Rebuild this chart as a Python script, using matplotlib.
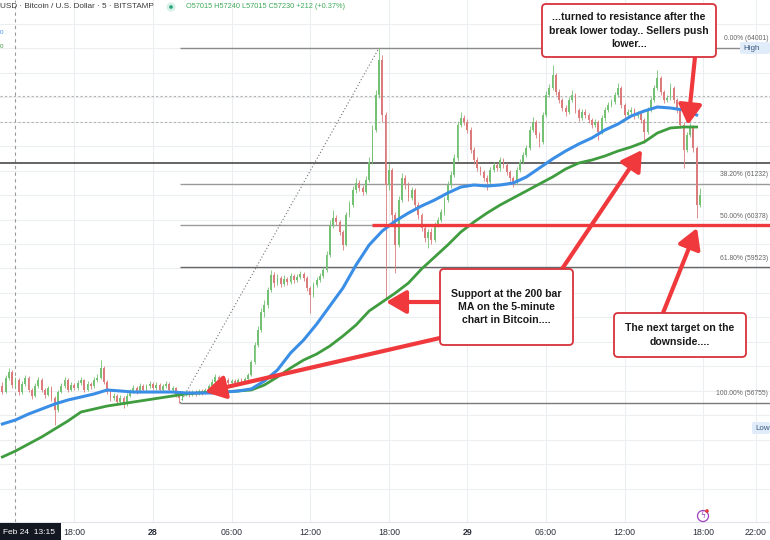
import numpy as np
import matplotlib
matplotlib.use("Agg")
import matplotlib.pyplot as plt
from matplotlib.patches import FancyBboxPatch, Circle

plt.rcParams['font.family'] = ['Liberation Sans', 'DejaVu Sans']

# 15 minute candles, time in hours counted from 28 Feb 00:00
bar_start = -11.5
bar_step = 0.25
open0 = 57100

closes = [
    56980, 57265, 57390, 57120, 57225, 56980, 57145, 57265, 57020, 56900,
    57100, 57225, 57020, 56920, 57060, 56855, 56610, 56980, 57100, 57225,
    57020, 57120, 57060, 57165, 57225, 57020, 57145, 57100, 57225, 57265,
    57470, 57185, 56980, 56855, 56900, 56775, 56855, 56735, 56900, 56980,
    57060, 56980, 57100, 57020, 57100, 57145, 57060, 57120, 57020, 57100,
    57145, 57020, 57060, 56920, 56855, 56940, 56980, 56920, 56980, 56940,
    57000, 56960, 57020, 57100, 57185, 57285, 57245, 57185, 57225, 57165,
    57205, 57165, 57225, 57185, 57245, 57325, 57590, 57940, 58245, 58610,
    58755, 59060, 59365, 59205, 59305, 59185, 59285, 59225, 59345, 59265,
    59325, 59390, 59305, 59100, 58960, 59165, 59265, 59345, 59470, 59775,
    60390, 60530, 60450, 60245, 59980, 60590, 60795, 61100, 61245, 61145,
    61060, 61305, 61675, 62325, 63040, 63755, 62635, 61205, 61510, 60590,
    59980, 60900, 61345, 61205, 60940, 61100, 60795, 60590, 60325, 60125,
    60245, 60080, 60390, 60490, 60655, 60900, 61205, 61410, 61755, 62430,
    62570, 62490, 62325, 61920, 61715, 61550, 61470, 61345, 61265, 61510,
    61610, 61550, 61715, 61610, 61470, 61345, 61265, 61510, 61675, 61815,
    61960, 62325, 62490, 62225, 62080, 62635, 63040, 63185, 63450, 63100,
    62940, 62775, 62695, 62940, 63040, 62735, 62570, 62695, 62635, 62530,
    62430, 62490, 62285, 62570, 62735, 62835, 62900, 63040, 63185, 62835,
    62635, 62695, 62735, 62610, 62655, 62530, 62285, 62735, 62940, 63185,
    63390, 63100, 62940, 62980, 63185, 62940, 62735, 62430, 61920, 62225,
    62370, 61960, 60795, 61000,
]
highs = [
    57180, 57330, 57470, 57420, 57290, 57260, 57200, 57330, 57300, 57060,
    57160, 57290, 57260, 57060, 57110, 57100, 56890, 57030, 57170, 57280,
    57260, 57180, 57160, 57220, 57290, 57250, 57200, 57190, 57280, 57340,
    57640, 57510, 57220, 57020, 56960, 56940, 56910, 56890, 56950, 57040,
    57120, 57100, 57160, 57140, 57150, 57210, 57190, 57180, 57160, 57150,
    57200, 57190, 57110, 57090, 56950, 56990, 57030, 57010, 57030, 57010,
    57050, 57040, 57070, 57150, 57240, 57340, 57320, 57280, 57270, 57260,
    57250, 57240, 57270, 57260, 57290, 57370, 57640, 58000, 58330, 58700,
    58850, 59130, 59470, 59420, 59380, 59350, 59360, 59330, 59400, 59390,
    59380, 59450, 59430, 59340, 59150, 59220, 59320, 59400, 59530, 59850,
    60500, 60700, 60600, 60500, 60290, 60650, 60870, 61180, 61350, 61310,
    61200, 61380, 61780, 62420, 63150, 64001, 63850, 62700, 61650, 61560,
    60650, 60980, 61450, 61400, 61260, 61170, 61150, 60850, 60640, 60380,
    60300, 60320, 60440, 60560, 60720, 60960, 61280, 61480, 61830, 62520,
    62690, 62640, 62550, 62380, 61980, 61780, 61600, 61520, 61400, 61570,
    61680, 61660, 61770, 61760, 61660, 61520, 61390, 61570, 61730, 61870,
    62020, 62400, 62590, 62540, 62280, 62700, 63120, 63260, 63650, 63500,
    63160, 62990, 62830, 63000, 63140, 63080, 62780, 62750, 62750, 62680,
    62580, 62550, 62530, 62630, 62790, 62900, 62960, 63100, 63290, 63220,
    62880, 62750, 62800, 62780, 62710, 62700, 62580, 62790, 63000, 63250,
    63550, 63430, 63150, 63040, 63290, 63230, 62990, 62780, 62480, 62290,
    62470, 62420, 62010, 61150,
]
lows = [
    56930, 56950, 57220, 57060, 57070, 56920, 56940, 57110, 56970, 56840,
    56870, 57060, 56980, 56860, 56890, 56800, 56300, 56580, 56950, 57070,
    56980, 56990, 57010, 57030, 57130, 56970, 56990, 57050, 57070, 57190,
    57240, 57140, 56930, 56800, 56810, 56720, 56740, 56650, 56700, 56870,
    56950, 56940, 56950, 56980, 56990, 57060, 57020, 57020, 56980, 56990,
    57060, 56980, 56980, 56880, 56755, 56820, 56900, 56880, 56890, 56900,
    56910, 56920, 56930, 56990, 57070, 57150, 57200, 57140, 57150, 57120,
    57130, 57120, 57140, 57140, 57160, 57220, 57300, 57560, 57900, 58200,
    58500, 58700, 59020, 59120, 59160, 59130, 59140, 59170, 59190, 59210,
    59220, 59290, 59250, 59040, 58590, 58920, 59120, 59220, 59300, 59430,
    59740, 60330, 60380, 60180, 59880, 59950, 60550, 60750, 61050, 61080,
    61000, 61020, 61260, 61640, 62280, 62980, 62500, 58850, 61100, 60450,
    59410, 59940, 60850, 61120, 60870, 60900, 60730, 60520, 60260, 60040,
    59920, 60010, 60040, 60340, 60440, 60600, 60860, 61150, 61370, 61700,
    62380, 62420, 62260, 61850, 61640, 61480, 61400, 61280, 61100, 61220,
    61460, 61490, 61500, 61560, 61410, 61290, 61160, 61220, 61470, 61630,
    61770, 61920, 62280, 62170, 61980, 62040, 62590, 63000, 63140, 63040,
    62880, 62710, 62620, 62650, 62900, 62670, 62510, 62530, 62580, 62470,
    62370, 62390, 62120, 62240, 62520, 62690, 62790, 62860, 63000, 62780,
    62580, 62590, 62650, 62560, 62570, 62470, 62060, 62240, 62690, 62900,
    63140, 63040, 62880, 62900, 62940, 62880, 62680, 62370, 61550, 61870,
    62180, 61880, 60530, 60750,
]

# moving averages, sampled once an hour from -11.5 h
ma_start = -11.5
ma_blue = [
    56326, 56408, 56530, 56632, 56734, 56816, 56877, 56939, 57020, 57000,
    56979, 56979, 56979, 56979, 56959, 56959, 56959, 56979, 57000, 57041,
    57204, 57428, 57775, 58041, 58367, 58735, 59102, 59571, 59980, 60265,
    60469, 60633, 60776, 60898, 61041, 61163, 61204, 61184, 61204, 61245,
    61368, 61551, 61735, 61898, 62041, 62164, 62327, 62449, 62612, 62714,
    62796, 62776, 62735, 62633,
]
ma_green = [
    55653, 55775, 55918, 56061, 56224, 56387, 56571, 56632, 56693, 56734,
    56775, 56816, 56857, 56898, 56939, 56959, 56979, 56979, 57000, 57020,
    57122, 57286, 57469, 57632, 57755, 57918, 58122, 58347, 58633, 58816,
    59000, 59204, 59490, 59735, 59980, 60245, 60449, 60633, 60796, 60939,
    61082, 61225, 61367, 61531, 61653, 61714, 61796, 61898, 61980, 62082,
    62265, 62368, 62388, 62388,
]

# fibonacci retracement, drawn from the swing low to the swing high
fib_labels = ["0.00%", "38.20%", "50.00%", "61.80%", "100.00%"]
fib_values = [64001, 61232, 60378, 59523, 56755]
fib_low_time = 2.08
fib_high_time = 17.25

black_level = 61653
dashed_levels = [63020, 62490]
target_level = 60378
target_from = 16.72

tick_hours = [-6, 0, 6, 12, 18, 24, 30, 36, 42, 46]
tick_labels = ["18:00", "28", "06:00", "12:00", "18:00", "29", "06:00", "12:00", "18:00", "22:00"]

header = "USD · Bitcoin / U.S. Dollar · 5 · BITSTAMP"
ohlc_text = "O57015 H57240 L57015 C57230 +212 (+0.37%)"

note_top = "...turned to resistance after the\nbreak lower today.. Sellers push\nlower..."
note_mid = "Support at the 200 bar\nMA on the 5-minute\nchart in Bitcoin...."
note_low = "The next target on the\ndownside...."

RED = '#f0393c'
BOX_EDGE = '#d8333b'
UP = '#74c174'
DOWN = '#db7b7b'

fig = plt.figure(figsize=(7.7, 5.4), dpi=100)
ax = fig.add_axes([0, 18 / 540, 1, 522 / 540])
ax.set_xlim(-11.68, 47.1)
ax.set_ylim(54326, 64980)
tr = fig.dpi_scale_trans


def px(x, y):
    # figure pixel (from top left) -> inches for dpi_scale_trans
    return (x / 100, (540 - y) / 100)


# grid
ax.set_xticks(tick_hours, tick_labels)
ax.set_yticks(np.arange(55000, 65000, 500))
ax.set_yticklabels([])
ax.grid(True, color='#eceef2', lw=0.8)
ax.tick_params(axis='both', length=0)
ax.tick_params(axis='x', labelsize=6.3, labelcolor='#2a2e39', pad=4)
for lab in ax.get_xticklabels():
    if lab.get_text() in ("28", "29"):
        lab.set_fontweight('bold')
for s in ['top', 'left', 'right']:
    ax.spines[s].set_visible(False)
ax.spines['bottom'].set_color('#e0e3eb')

# crosshair and reference lines
ax.axvline(-10.53, color='#9a9a9a', lw=0.8, ls=(0, (3, 3)))
for lv in dashed_levels:
    ax.axhline(lv, color='#b4b4b4', lw=0.8, ls=(0, (2, 2)))
ax.axhline(black_level, color='#3a3a3a', lw=1.1)

fib_colors = ['#8a8a8a', '#9a9a9a', '#9a9a9a', '#666666', '#7a7a7a']
for lab, val, col in zip(fib_labels, fib_values, fib_colors):
    ax.hlines(val, fib_low_time, 47.1, color=col, lw=1.0)
    ax.text(46.95, val + 190, f"{lab} ({val})", ha='right', va='center',
            fontsize=4.9, color='#666666')
ax.plot([fib_low_time, fib_high_time], [fib_values[-1], fib_values[0]],
        color='#707070', lw=0.8, ls=(0, (1, 2)))

# candles
c = np.array(closes, dtype=float)
o = np.r_[open0, c[:-1]]
t = bar_start + bar_step * np.arange(len(c))
cols = np.where(c >= o, UP, DOWN)
ax.vlines(t, lows, highs, colors=cols, lw=0.6, zorder=3)
ax.bar(t, np.maximum(np.abs(c - o), 15), bottom=np.minimum(o, c), width=0.14,
       color=cols, lw=0, zorder=3)

# moving averages
tm = ma_start + np.arange(len(ma_blue))
ax.plot(tm, ma_green, color='#3f9c3f', lw=2.0, zorder=4)
ax.plot(tm, ma_blue, color='#3a8ee6', lw=2.2, zorder=4)

# target line
ax.hlines(target_level, target_from, 47.1, color=RED, lw=2.4, zorder=5)

# arrows
aprops = dict(arrowstyle='-|>,head_length=0.55,head_width=0.32', color=RED,
              lw=3, mutation_scale=22, shrinkA=0, shrinkB=0)
arrows = [
    ((40.84, 62429), (695, 57)),
    ((17.79, 58816), (440, 302)),
    ((3.97, 56979), (440, 338)),
    ((37.33, 61919), (562, 269)),
    ((41.53, 60327), (663, 313)),
]
for tip, tail in arrows:
    ax.annotate("", xy=tip, xycoords='data', xytext=px(*tail), textcoords=tr,
                arrowprops=aprops, annotation_clip=False, zorder=6)


def note_box(x0, y0, x1, y1, text):
    fig.patches.append(FancyBboxPatch(px(x0, y1), (x1 - x0) / 100, (y1 - y0) / 100,
                                      boxstyle="round,pad=0,rounding_size=0.04",
                                      transform=tr, fc='white', ec=BOX_EDGE,
                                      lw=1.3, zorder=5))
    fig.text(*px((x0 + x1) / 2, (y0 + y1) / 2), text, transform=tr, ha='center',
             va='center', fontsize=7.6, fontweight='bold', color='#1a1a1a',
             linespacing=1.38, zorder=6)


note_box(542, 4, 716, 57, note_top)
note_box(440, 269, 573, 345, note_mid)
note_box(614, 313, 746, 357, note_low)

# header
fig.text(*px(0, 7), header, transform=tr, ha='left', va='center', fontsize=5.9,
         color='#3a3a3a', zorder=7)
fig.patches.append(Circle(px(171, 7), 0.045, transform=tr, fc='#d6f0e6', ec='none', zorder=7))
fig.patches.append(Circle(px(171, 7), 0.018, transform=tr, fc='#26a67a', ec='none', zorder=8))
fig.text(*px(186, 7), ohlc_text, transform=tr, ha='left', va='center', fontsize=5.3,
         color='#3faa5a', zorder=7)
fig.text(*px(0, 32), "0", transform=tr, ha='left', va='center', fontsize=4.5, color='#3a8ee6')
fig.text(*px(0, 47), "0", transform=tr, ha='left', va='center', fontsize=4.5, color='#3f9c3f')

# High / Low tags
for y, txt, x0 in [(48, "High", 740), (428, "Low", 752)]:
    fig.patches.append(FancyBboxPatch(px(x0, y + 6), (770 - x0) / 100, 0.12,
                                      boxstyle="round,pad=0,rounding_size=0.02",
                                      transform=tr, fc='#e1ecfa', ec='none', zorder=7))
    fig.text(*px(x0 + 3, y), txt, transform=tr, ha='left', va='center', fontsize=5.8,
             color='#3b5a80', zorder=8)

# time tag at bottom left
fig.patches.append(FancyBboxPatch(px(0, 540), 0.61, 0.17, boxstyle="square,pad=0",
                                  transform=tr, fc='#131722', ec='none', zorder=7))
fig.text(*px(3, 532), "Feb 24  13:15", transform=tr, ha='left', va='center',
         fontsize=6.0, color='white', zorder=8)

# event icon
fig.patches.append(Circle(px(703, 516), 0.055, transform=tr, fc='white', ec='#a040c0',
                          lw=0.9, zorder=7))
fig.patches.append(Circle(px(707, 511), 0.018, transform=tr, fc='#e53935', ec='none', zorder=8))
fig.text(*px(703, 516), "ϟ", transform=tr, ha='center', va='center', fontsize=5.5,
         color='#a040c0', family='DejaVu Sans', zorder=8)

fig.savefig('out.png', dpi=100)
